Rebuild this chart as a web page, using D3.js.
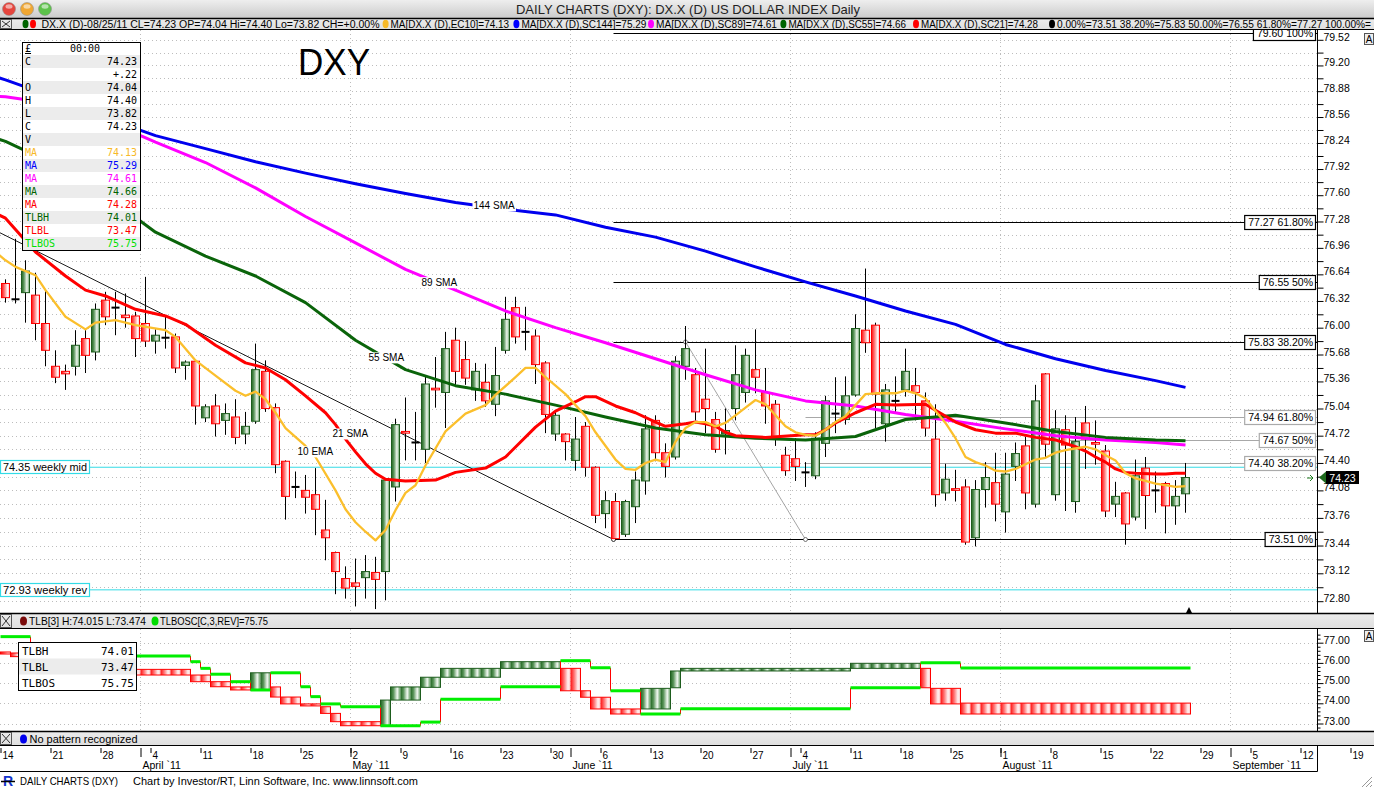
<!DOCTYPE html>
<html><head><meta charset="utf-8">
<script src="https://cdn.jsdelivr.net/npm/d3@7/dist/d3.min.js"></script>
<style>body{margin:0;background:#fff;overflow:hidden}svg{display:block}</style>
</head><body>
<svg id="c" width="1374" height="789"></svg>
<script>
// ---------------- DATA ----------------
// daily candles, trading-day slot 0 = Mon 14 Mar 2011 (weekdays only)
const open  = [76.53,76.34,76.42,76.39,76.05,75.54,75.48,75.54,75.87,75.71,76.33,76.24,76.15,76.14,76.05,75.84,75.88,75.89,75.55,75.60,74.93,75.07,74.90,74.94,74.74,74.89,75.48,75.05,74.42,74.12,74.08,74.03,73.62,73.36,73.06,73.01,73.07,73.13,73.14,74.12,74.77,74.64,74.56,75.28,75.23,75.85,75.62,75.26,75.35,75.09,75.73,76.24,75.95,75.90,75.58,74.74,74.74,74.43,74.83,74.35,73.81,73.95,73.57,73.89,74.19,74.90,74.52,74.47,75.54,75.44,75.15,74.91,74.74,75.04,75.23,75.50,75.23,75.09,74.49,74.45,74.29,74.25,74.63,74.98,74.91,75.20,75.97,76.03,74.86,75.13,75.26,75.31,75.13,74.68,74.05,74.10,74.12,73.53,74.09,74.17,73.83,74.36,74.60,73.92,75.45,74.03,74.79,73.95,74.87,74.64,74.54,73.92,74.05,73.77,74.34,74.08,74.16,73.90,74.04];
const high  = [76.58,77.07,76.81,76.66,76.45,75.73,75.56,75.97,75.99,76.29,76.43,76.43,76.41,76.19,76.61,75.98,76.15,75.93,75.61,75.61,75.09,75.21,75.10,75.15,75.00,75.81,75.61,75.10,74.43,74.30,74.26,74.34,73.97,73.37,73.20,73.29,73.33,73.31,74.22,74.92,75.17,75.00,75.42,75.65,75.95,76.00,75.84,75.58,75.57,75.77,76.37,76.37,76.25,75.98,75.60,75.02,74.75,74.94,74.88,74.36,74.07,74.05,73.97,74.30,74.96,74.96,74.63,75.66,76.02,75.52,75.75,75.00,75.04,75.79,75.75,75.98,75.52,75.14,74.59,74.69,74.41,74.76,75.19,75.41,75.42,76.16,76.71,76.06,75.33,75.42,75.75,75.52,75.23,75.09,74.39,74.32,74.21,74.20,74.41,74.52,74.52,74.64,74.71,75.32,75.46,75.02,74.96,74.94,75.07,74.90,74.61,74.18,74.06,74.44,74.47,74.30,74.18,74.20,74.40];
const low   = [76.30,76.29,76.06,75.85,75.54,75.34,75.26,75.43,75.46,75.61,76.03,75.91,76.00,75.65,75.77,75.69,75.75,75.46,75.38,74.85,74.88,74.71,74.73,74.62,74.62,74.86,75.00,74.28,73.74,73.99,73.81,73.56,73.27,72.88,72.83,72.74,72.83,72.71,72.81,73.95,74.43,74.43,74.40,75.05,74.81,75.31,75.32,75.13,75.06,74.95,75.69,75.81,75.73,75.33,74.75,74.66,74.43,74.31,74.24,73.70,73.64,73.51,73.54,73.70,74.03,74.42,74.23,74.44,75.38,74.90,74.75,74.52,74.50,74.90,75.11,75.22,74.86,74.60,74.25,74.19,74.12,74.21,74.47,74.75,74.85,75.18,75.70,74.81,74.65,74.98,75.18,74.90,74.71,73.89,73.96,73.95,73.45,73.43,73.88,73.72,73.59,74.19,73.86,73.88,74.45,73.96,73.84,73.82,74.33,74.38,73.77,73.77,73.45,73.73,73.63,73.82,73.58,73.68,73.82];
const close = [76.36,76.34,76.68,76.05,75.73,75.41,75.45,75.79,75.67,76.22,76.13,76.24,76.12,75.87,75.84,75.91,75.88,75.52,75.59,75.07,75.06,74.86,74.98,74.70,74.83,75.50,75.04,74.38,74.01,74.12,74.00,73.86,73.53,73.14,72.95,72.97,73.14,73.05,74.20,74.85,74.75,74.64,75.33,75.26,75.75,75.48,75.40,75.48,75.13,75.43,76.10,75.89,75.95,75.56,74.97,74.96,74.65,74.68,74.35,73.79,73.96,73.52,73.95,74.20,74.80,74.52,74.36,75.60,75.75,75.00,75.04,74.56,74.78,75.44,75.67,75.41,75.07,74.70,74.31,74.36,74.29,74.69,75.13,74.98,75.19,75.99,75.82,75.21,75.26,75.13,75.48,75.23,74.81,74.03,74.21,74.08,73.48,74.09,74.23,73.92,74.27,74.51,74.05,75.13,74.62,74.80,74.61,74.65,74.68,74.62,73.84,74.01,73.69,74.25,74.02,74.08,73.90,74.01,74.23];

// moving averages at trading-day slots
const maIdx  = [-1,0,5,10,15,20,25,30,35,40,45,50,55,60,65,70,75,80,85,90,95,100,105,110,115,118];
const sma144 = [79.06,79.02,78.80,78.55,78.33,78.17,78.01,77.87,77.74,77.62,77.51,77.43,77.36,77.21,77.09,76.92,76.73,76.55,76.38,76.20,76.04,75.80,75.63,75.49,75.37,75.29];
const sma89  = [78.82,78.81,78.72,78.52,78.25,78.00,77.69,77.34,77.02,76.70,76.45,76.20,76.00,75.82,75.63,75.44,75.26,75.13,75.07,74.97,74.89,74.80,74.72,74.67,74.64,74.61];
const sma55  = [78.30,78.26,77.97,77.60,77.15,76.86,76.62,76.30,75.85,75.50,75.31,75.21,75.08,74.94,74.81,74.73,74.69,74.67,74.71,74.91,74.96,74.87,74.77,74.70,74.67,74.66];
const sma21Idx = [-1,0,3,6,8,10,13,16,18,21,24,26,28,30,32,33,34,35,36,37,38,40,43,45,48,50,53,55,57,58,59,61,63,65,66,68,69,70,71,72,73,76,80,81,82,83,84,85,87,89,92,93,95,97,99,101,103,105,107,108,109,110,111,112,113,115,116,117,118];
const sma21    = [77.38,77.32,76.91,76.62,76.45,76.38,76.22,76.14,76.04,75.79,75.58,75.52,75.38,75.19,74.99,74.85,74.68,74.53,74.39,74.28,74.21,74.19,74.20,74.29,74.34,74.47,74.82,75.01,75.12,75.18,75.18,75.07,74.99,74.88,74.83,74.86,74.88,74.86,74.83,74.76,74.72,74.70,74.73,74.73,74.79,74.87,74.93,74.99,75.09,75.08,75.09,75.02,74.88,74.79,74.75,74.75,74.70,74.67,74.59,74.54,74.47,74.41,74.33,74.29,74.28,74.27,74.27,74.28,74.28];
const ema10Idx = [-1,0,1,3,4,6,8,9,11,13,16,17,19,21,23,24,25,26,27,28,30,31,33,34,35,36,37,38,39,40,41,42,44,46,48,49,51,52,53,54,56,58,59,61,62,63,64,65,66,67,68,69,70,71,72,73,74,75,76,77,78,79,80,81,82,83,84,85,86,87,89,90,91,92,93,94,95,96,97,98,99,100,101,103,104,105,106,108,109,110,111,112,113,114,115,116,117,118];
const ema10    = [76.91,76.81,76.73,76.63,76.45,76.13,75.98,76.06,76.09,76.03,75.97,75.89,75.61,75.43,75.25,75.19,75.24,75.15,74.99,74.81,74.60,74.47,74.08,73.86,73.71,73.60,73.50,73.62,73.85,74.05,74.14,74.37,74.77,74.98,75.08,75.20,75.41,75.52,75.52,75.41,75.21,74.95,74.76,74.44,74.33,74.32,74.40,74.44,74.41,74.65,74.81,74.88,74.88,74.83,74.87,74.96,75.05,75.14,75.09,74.96,74.83,74.76,74.73,74.72,74.79,74.88,74.95,75.08,75.21,75.22,75.22,75.25,75.22,75.16,75.01,74.87,74.69,74.47,74.41,74.37,74.31,74.30,74.33,74.44,74.46,74.52,74.55,74.59,74.56,74.49,74.43,74.28,74.22,74.19,74.16,74.14,74.12,74.13];

// annotations
const fibLevels = [73.51, 75.83, 76.55, 77.27, 79.60];
const fibNames  = ["73.51 0%","75.83 38.20%","76.55 50%","77.27 61.80%","79.60 100%"];
const fib2Levels = [74.40, 74.67, 74.94];
const fib2Names  = ["74.40 38.20%","74.67 50%","74.94 61.80%"];
const weeklyLevels = [74.35, 72.93];
const weeklyNames  = ["74.35 weekly mid","72.93 weekly rev"];
const trendIdx = [-1, 60.8], trendVal = [77.17, 73.51];
const swingIdx = [68, 80], swingVal = [75.83, 73.51];
const maLabels = ["144 SMA","89 SMA","55 SMA","21 SMA","10 EMA"];
const maLabelIdx = [46.8, 41.6, 36.3, 32.7, 29.2];
const maLabelVal = [77.47, 76.54, 75.64, 74.74, 74.53];

// Three line break panel (runs starting at slot)
const tlbStart = [0,1,2,5,9,13,19,21,23,25,27,28,30,32,33,34,38,39,42,44,50,56,58,59,61,64,67,68,85,92,93,96];
const tlbLow   = [76.44,76.31,76.10,75.90,75.68,75.40,75.07,74.82,74.66,74.66,74.31,73.97,73.87,73.50,73.09,72.89,72.89,74.16,74.79,75.29,75.73,74.62,74.30,73.72,73.47,73.72,74.77,75.60,75.73,74.77,73.97,73.47];
const tlbHigh  = [76.54,76.49,76.31,76.10,75.90,75.68,75.40,75.07,74.81,75.51,74.81,74.31,73.97,73.83,73.50,73.09,74.16,74.81,75.29,75.73,76.06,75.73,74.62,74.30,73.72,74.74,75.60,75.73,75.98,75.73,74.74,74.01];
const tlbDir   = ["d","d","d","d","d","d","d","d","d","u","d","d","d","d","d","d","u","u","u","u","u","d","d","d","d","u","u","u","u","d","d","d"];
const osStart  = [0,3,9,19,20,21,23,25,27,30,31,32,34,38,42,44,50,56,59,61,64,68,85,92,96];
const osVal    = [77.30,76.60,76.34,76.06,75.73,75.44,75.07,74.66,75.51,74.82,74.33,73.97,73.83,72.89,73.07,74.20,74.82,76.11,75.76,74.62,73.47,73.73,74.77,76.01,75.75];

// axis labels
const dayTickSlots = d3.range(0, 136, 5);
const dayTickLabels = ["14","21","28","4","11","18","25","2","9","16","23","30","6","13","20","27","4","11","18","25","1","8","15","22","29","5","12","19"];
const monthSlots = [14,35,57,79,100,123];
const monthLabels = ["April `11","May `11","June `11","July `11","August `11","September `11"];

const infoRows = [["C","74.23"],["","+.22"],["O","74.04"],["H","74.40"],["L","73.82"],["C","74.23"],["V",""],["MA","74.13"],["MA","75.29"],["MA","74.61"],["MA","74.66"],["MA","74.28"],["TLBH","74.01"],["TLBL","73.47"],["TLBOS","75.75"]];
const infoColors = ["#000","#000","#000","#000","#000","#000","#000","#f7b928","#0000ff","#ff00ff","#006400","#ff0000","#006400","#ff0000","#00e000"];
const lastClose = 74.23;

const legendTexts = ["DX.X (D)-08/25/11 CL=74.23 OP=74.04 Hi=74.40 Lo=73.82 CH=+0.00%","MA[DX.X (D),EC10]=74.13","MA[DX.X (D),SC144]=75.29","MA[DX.X (D),SC89]=74.61","MA[DX.X (D),SC55]=74.66","MA[DX.X (D),SC21]=74.28","0.00%=73.51 38.20%=75.83 50.00%=76.55 61.80%=77.27 100.00%="];
const legendDot = [null, "#f7b928", "#0000ff", "#ff00ff", "#006400", "#ff0000", "#000"];

// ---------------- DRAW ----------------
const W = 1374, H = 789;
const SANS = "'Liberation Sans', Arial, sans-serif";
const MONO = "'DejaVu Sans Mono', monospace";
const svg = d3.select("#c");
const defs = svg.append("defs");
function lin(id, stops, vertical) {
  const g = defs.append("linearGradient").attr("id", id)
    .attr("x1", 0).attr("y1", 0).attr("x2", vertical ? 0 : 1).attr("y2", vertical ? 1 : 0);
  stops.forEach(s => g.append("stop").attr("offset", s[0]).attr("stop-color", s[1]));
}
lin("gUp", [[0,"#1f641f"],[0.3,"#5c965c"],[0.68,"#f2f8f2"],[1,"#5b9b5b"]]);
lin("gDn", [[0,"#ff1010"],[0.35,"#ff7070"],[0.75,"#fff3f3"],[1,"#ffc4c4"]]);
lin("tb", [[0,"#eeeeee"],[1,"#cbcbcb"]], true);
lin("bar", [[0,"#ececec"],[1,"#dedede"]], true);

const xc = d3.scaleLinear().domain([0, 136]).range([5.5, 1365.5]);   // candle centres
const xs = d3.scaleLinear().domain([0, 136]).range([1, 1361]);       // slot start (ticks)
const y = d3.scaleLog().domain([72.80, 79.52]).range([601.2, 39.8]);
const yl = d3.scaleLinear().domain([73, 77]).range([723.5, 642.7]);
const AX = 1317;

// Title bar
svg.append("rect").attr("width", W).attr("height", 18).attr("fill", "url(#tb)");
[["#e5453d",9],["#f0a733",27],["#5cc24a",45]].forEach(([c,cx]) => {
  svg.append("circle").attr("cx", cx).attr("cy", 9).attr("r", 6.5).attr("fill", c).attr("stroke", "#888").attr("stroke-width", 0.5);
  svg.append("ellipse").attr("cx", cx).attr("cy", 6.5).attr("rx", 3.5).attr("ry", 2.2).attr("fill", "#fff").attr("opacity", 0.55);
});
svg.append("text").attr("x", 688).attr("y", 13.5).attr("text-anchor", "middle")
  .attr("font-family", SANS).attr("font-size", 13.5).attr("fill", "#222")
  .attr("textLength", 344).attr("lengthAdjust", "spacingAndGlyphs")
  .text("DAILY CHARTS (DXY): DX.X (D) US DOLLAR INDEX Daily");

function headerBar(y0, y1) {
  svg.append("rect").attr("x", 0).attr("y", y0).attr("width", W).attr("height", y1 - y0).attr("fill", "url(#bar)");
  svg.append("line").attr("x1", 0).attr("x2", W).attr("y1", y0 + 0.5).attr("y2", y0 + 0.5).attr("stroke", "#000").attr("stroke-width", 1.5);
  svg.append("line").attr("x1", 0).attr("x2", W).attr("y1", y1 - 0.5).attr("y2", y1 - 0.5).attr("stroke", "#000");
  svg.append("rect").attr("x", 0.5).attr("y", y0 + 1.5).attr("width", 11).attr("height", y1 - y0 - 3).attr("fill", "none").attr("stroke", "#555");
  svg.append("path").attr("d", `M2,${y0+3}L10,${y1-3}M10,${y0+3}L2,${y1-3}`).attr("stroke", "#333");
}
function dot(cx, cy, c) { svg.append("ellipse").attr("cx", cx).attr("cy", cy).attr("rx", 3).attr("ry", 4.2).attr("fill", c); }

// ---------- main plot ----------
defs.append("clipPath").attr("id", "mainClip").append("rect").attr("x", 0).attr("y", 30).attr("width", AX).attr("height", 583);
const plot = svg.append("g").attr("clip-path", "url(#mainClip)");

const gridVals = d3.range(0, 44).map(k => +(72.80 + 0.16 * k).toFixed(2));
plot.selectAll(".hg").data(gridVals).join("line")
  .attr("x1", 0).attr("x2", AX).attr("y1", d => Math.round(y(d)) + 0.5).attr("y2", d => Math.round(y(d)) + 0.5)
  .attr("stroke", "#bdbdbd").attr("stroke-dasharray", "1,3");
plot.selectAll(".vg").data(monthSlots).join("line")
  .attr("x1", d => Math.round(xs(d)) - 0.5).attr("x2", d => Math.round(xs(d)) - 0.5).attr("y1", 30).attr("y2", 613)
  .attr("stroke", "#bdbdbd").attr("stroke-dasharray", "1,3");

weeklyLevels.forEach(v => plot.append("line").attr("x1", 0).attr("x2", AX).attr("y1", y(v)).attr("y2", y(v)).attr("stroke", "#33dbe6").attr("stroke-width", 1));

const fibX0 = xc(60.8);
fibLevels.forEach(v => plot.append("line").attr("x1", fibX0).attr("x2", AX).attr("y1", Math.round(y(v)) + 0.5).attr("y2", Math.round(y(v)) + 0.5).attr("stroke", "#000"));
fib2Levels.forEach(v => plot.append("line").attr("x1", xc(80)).attr("x2", AX).attr("y1", Math.round(y(v)) + 0.5).attr("y2", Math.round(y(v)) + 0.5).attr("stroke", "#a8a8a8"));
plot.append("line").attr("x1", xc(trendIdx[0])).attr("y1", y(trendVal[0])).attr("x2", xc(trendIdx[1])).attr("y2", y(trendVal[1])).attr("stroke", "#000").attr("stroke-width", 0.9);
plot.append("line").attr("x1", xc(swingIdx[0])).attr("y1", y(swingVal[0])).attr("x2", xc(swingIdx[1])).attr("y2", y(swingVal[1])).attr("stroke", "#9a9a9a").attr("stroke-width", 0.9);
[[trendIdx[1], trendVal[1], "#000"], [swingIdx[0], swingVal[0], "#555"], [swingIdx[1], swingVal[1], "#555"]].forEach(([i, v, c]) =>
  plot.append("circle").attr("cx", xc(i)).attr("cy", y(v)).attr("r", 2).attr("fill", "#fff").attr("stroke", c).attr("stroke-width", 0.8));

// candles
const N = close.length;
const candles = d3.range(N).map(i => ({i, o: open[i], h: high[i], l: low[i], c: close[i]}));
const cg = plot.append("g");
cg.selectAll(".wick").data(candles).join("line")
  .attr("x1", d => xc(d.i)).attr("x2", d => xc(d.i)).attr("y1", d => y(d.h)).attr("y2", d => y(d.l))
  .attr("stroke", "#000").attr("stroke-width", 1);
cg.selectAll(".body").data(candles.filter(d => d.o !== d.c)).join("rect")
  .attr("x", d => xc(d.i) - 4).attr("width", 8)
  .attr("y", d => y(Math.max(d.o, d.c)))
  .attr("height", d => Math.max(1.5, y(Math.min(d.o, d.c)) - y(Math.max(d.o, d.c))))
  .attr("fill", d => d.c > d.o ? "url(#gUp)" : "url(#gDn)")
  .attr("stroke", d => d.c > d.o ? "#1d5c1d" : "#ff0000").attr("stroke-width", 1);
cg.selectAll(".doji").data(candles.filter(d => d.o === d.c)).join("rect")
  .attr("x", d => xc(d.i) - 4).attr("width", 8).attr("y", d => y(d.o) - 1).attr("height", 2).attr("fill", "#000");

// moving averages
const line = d3.line().x(d => xc(d[0])).y(d => y(d[1]));
const maSeries = [
  [maIdx, sma144, "#0000ee", 3],
  [maIdx, sma89, "#ff00ff", 3],
  [maIdx, sma55, "#0a640a", 3],
  [sma21Idx, sma21, "#ff0000", 3],
  [ema10Idx, ema10, "#fbbf2c", 2.3]
];
maSeries.forEach(([ix, vals, col, w]) => {
  plot.append("path").datum(ix.map((i, k) => [i, vals[k]])).attr("d", line)
    .attr("fill", "none").attr("stroke", col).attr("stroke-width", w).attr("stroke-linejoin", "round");
});
maLabels.forEach((t, k) => {
  const tx = plot.append("text").attr("x", xc(maLabelIdx[k])).attr("y", y(maLabelVal[k]) + 3.5)
    .attr("font-family", SANS).attr("font-size", 10).text(t);
  const bb = tx.node().getBBox();
  plot.insert("rect", () => tx.node()).attr("x", bb.x - 1).attr("y", bb.y).attr("width", bb.width + 2).attr("height", bb.height).attr("fill", "#fff");
});

svg.append("text").attr("x", 298).attr("y", 75).attr("font-family", SANS).attr("font-size", 37)
  .attr("textLength", 72).attr("lengthAdjust", "spacingAndGlyphs").text("DXY");

function tagBox(v, txt, stroke, xr) {
  const t = svg.append("text").attr("x", xr - 3).attr("y", y(v) + 4).attr("text-anchor", "end")
    .attr("font-family", SANS).attr("font-size", 10.5).text(txt);
  const bb = t.node().getBBox();
  svg.insert("rect", () => t.node()).attr("x", bb.x - 3.5).attr("y", Math.round(y(v)) - 6.5).attr("width", bb.width + 6).attr("height", 14)
    .attr("fill", "#fff").attr("stroke", stroke).attr("stroke-width", 1.2);
}
fibLevels.forEach((v, k) => tagBox(v, fibNames[k], "#000", 1316));
fib2Levels.forEach((v, k) => tagBox(v, fib2Names[k], "#aaa", 1316));
weeklyLevels.forEach((v, k) => {
  const t = svg.append("text").attr("x", 3).attr("y", y(v) + 4).attr("font-family", SANS).attr("font-size", 11)
    .attr("textLength", 84).attr("lengthAdjust", "spacingAndGlyphs").text(weeklyNames[k]);
  svg.insert("rect", () => t.node()).attr("x", 0.5).attr("y", Math.round(y(v)) - 6.5).attr("width", 89).attr("height", 13)
    .attr("fill", "#fff").attr("stroke", "#33dbe6").attr("stroke-width", 1.2);
});

// legend bar (drawn once, on top)
headerBar(18, 30);
dot(25.5, 24, "#006400"); dot(33, 24, "#ff0000");
const legendX = [41.5, 390.6, 521.4, 656, 788.4, 921, 1057];
const legendW = [338, 118.4, 125, 121, 117.6, 117, 314];
legendTexts.forEach((t, k) => {
  if (legendDot[k]) dot(legendX[k] - 5, 24, legendDot[k]);
  svg.append("text").attr("x", legendX[k]).attr("y", 27.6).attr("font-family", SANS).attr("font-size", 10)
    .attr("textLength", legendW[k]).attr("lengthAdjust", "spacingAndGlyphs").text(t);
});

// info box
const ib = svg.append("g").attr("transform", "translate(22,42)");
ib.append("rect").attr("x", 0.5).attr("y", 0.5).attr("width", 118).attr("height", 208).attr("fill", "#fff");
infoRows.forEach((r, k) => {
  if (k % 2 === 0) ib.append("rect").attr("x", 1).attr("y", 13 + k * 13).attr("width", 117).attr("height", 13).attr("fill", "#ececec");
  ib.append("text").attr("x", 3).attr("y", 23 + k * 13).attr("font-family", MONO).attr("font-size", 10).attr("fill", infoColors[k]).text(r[0]);
  ib.append("text").attr("x", 115).attr("y", 23 + k * 13).attr("text-anchor", "end").attr("font-family", MONO).attr("font-size", 10).attr("fill", infoColors[k]).text(r[1]);
});
ib.append("text").attr("x", 3).attr("y", 10).attr("font-family", MONO).attr("font-size", 10).attr("text-decoration", "underline").text("£");
ib.append("text").attr("x", 63).attr("y", 10).attr("text-anchor", "middle").attr("font-family", MONO).attr("font-size", 10).text("00:00");
ib.append("rect").attr("x", 0.5).attr("y", 0.5).attr("width", 118).attr("height", 208).attr("fill", "none").attr("stroke", "#000");

// right axis main
svg.append("rect").attr("x", AX).attr("y", 30).attr("width", W - AX).attr("height", 583).attr("fill", "#fff").lower();
const majors = gridVals.filter((d, k) => k % 2 === 0 && d <= 79.53);
const minors = gridVals.filter((d, k) => k % 2 === 1 && d <= 79.53);
const ra = svg.append("g").attr("transform", `translate(${AX + 0.5},0)`);
ra.append("g").call(d3.axisRight(y).tickValues(majors).tickSize(6).tickFormat(d3.format(".2f")))
  .call(g => g.select(".domain").remove())
  .call(g => g.selectAll("text").attr("x", 6).attr("dy", "0.05em").attr("font-family", SANS).attr("font-size", 10.5).attr("fill", "#000"))
  .call(g => g.selectAll("line").attr("stroke", "#000"));
ra.append("g").call(d3.axisRight(y).tickValues(minors).tickSize(6).tickFormat(""))
  .call(g => g.select(".domain").remove()).call(g => g.selectAll("line").attr("stroke", "#000"));
svg.append("line").attr("x1", AX + 0.5).attr("x2", AX + 0.5).attr("y1", 30).attr("y2", 613).attr("stroke", "#000");
svg.append("line").attr("x1", AX).attr("x2", W).attr("y1", y(74.35)).attr("y2", y(74.35)).attr("stroke", "#33dbe6").lower();
svg.append("path").attr("d", `M${AX + 2},${y(lastClose)}l7,-6v12z`).attr("fill", "#1e6b1e");
svg.append("rect").attr("x", AX + 9).attr("y", y(lastClose) - 6.5).attr("width", 33).attr("height", 13).attr("fill", "#000");
svg.append("text").attr("x", AX + 25.5).attr("y", y(lastClose) + 4).attr("text-anchor", "middle").attr("font-family", SANS).attr("font-size", 10.5).attr("fill", "#fff").text("74.23");
svg.append("path").attr("d", `M${AX - 10},${y(lastClose) + 0.5}h6m-3,-3l3,3l-3,3`).attr("stroke", "#1e7b1e").attr("fill", "none");
function aBox(yy) {
  svg.append("rect").attr("x", 1364.5).attr("y", yy + 0.5).attr("width", 9).attr("height", 11).attr("fill", "#eee").attr("stroke", "#555");
  svg.append("text").attr("x", 1369).attr("y", yy + 10).attr("text-anchor", "middle").attr("font-family", SANS).attr("font-size", 10).text("A");
}
aBox(33);
svg.append("path").attr("d", "M1186,613l3,-6l3,6z").attr("fill", "#000");

// ---------- lower panel ----------
headerBar(613, 629);
svg.append("ellipse").attr("cx", 23.5).attr("cy", 621).attr("rx", 3.5).attr("ry", 4.5).attr("fill", "#7a0a0a");
svg.append("text").attr("x", 29).attr("y", 625).attr("font-family", SANS).attr("font-size", 10.5).attr("textLength", 117).attr("lengthAdjust", "spacingAndGlyphs").text("TLB[3] H:74.015 L:73.474");
svg.append("ellipse").attr("cx", 155).attr("cy", 621).attr("rx", 3.5).attr("ry", 4.5).attr("fill", "#00dd00");
svg.append("text").attr("x", 160).attr("y", 625).attr("font-family", SANS).attr("font-size", 10.5).attr("textLength", 108).attr("lengthAdjust", "spacingAndGlyphs").text("TLBOSC[C,3,REV]=75.75");

defs.append("clipPath").attr("id", "lowClip").append("rect").attr("x", 0).attr("y", 629).attr("width", AX).attr("height", 102);
const lp = svg.append("g").attr("clip-path", "url(#lowClip)");
lp.selectAll(".lg").data([73, 74, 75, 76, 77]).join("line")
  .attr("x1", 0).attr("x2", AX).attr("y1", d => Math.round(yl(d)) + 0.5).attr("y2", d => Math.round(yl(d)) + 0.5)
  .attr("stroke", "#bdbdbd").attr("stroke-dasharray", "1,3");
lp.selectAll(".lv").data(monthSlots).join("line")
  .attr("x1", d => Math.round(xs(d)) - 0.5).attr("x2", d => Math.round(xs(d)) - 0.5).attr("y1", 629).attr("y2", 731)
  .attr("stroke", "#bdbdbd").attr("stroke-dasharray", "1,3");
const runs = tlbStart.map((s, k) => ({s, e: k + 1 < tlbStart.length ? tlbStart[k + 1] : N, lo: tlbLow[k], hi: tlbHigh[k], up: tlbDir[k] === "u"}));
runs.forEach(r => {
  d3.range(r.s, r.e).forEach(i => {
    lp.append("rect").attr("x", xs(i) - 0.5).attr("width", 10).attr("y", yl(r.hi)).attr("height", Math.max(1.5, yl(r.lo) - yl(r.hi)))
      .attr("fill", r.up ? "url(#gUp)" : "url(#gDn)");
  });
  lp.append("rect").attr("x", xs(r.s) - 0.5).attr("width", (r.e - r.s) * 10).attr("y", yl(r.hi)).attr("height", Math.max(1.5, yl(r.lo) - yl(r.hi)))
    .attr("fill", "none").attr("stroke", r.up ? "#1d5c1d" : "#ff0000").attr("stroke-width", 1);
});
const osRuns = osStart.map((s, k) => ({s, e: k + 1 < osStart.length ? osStart[k + 1] : N, v: osVal[k]}));
osRuns.forEach((r, k) => {
  if (k > 0) lp.append("line").attr("x1", xs(r.s) - 0.5).attr("x2", xs(r.s) - 0.5).attr("y1", yl(osRuns[k - 1].v)).attr("y2", yl(r.v)).attr("stroke", "#ff0000");
});
osRuns.forEach(r => lp.append("line").attr("x1", xs(r.s) - 0.5).attr("x2", xs(r.e) - 0.5).attr("y1", yl(r.v)).attr("y2", yl(r.v)).attr("stroke", "#00ee00").attr("stroke-width", 3));

const lb = svg.append("g").attr("transform", "translate(18,642)");
lb.append("rect").attr("x", 0.5).attr("y", 0.5).attr("width", 118).attr("height", 48).attr("fill", "#fff");
lb.append("rect").attr("x", 1).attr("y", 16.5).attr("width", 117).attr("height", 16).attr("fill", "#ececec");
[["TLBH","74.01"],["TLBL","73.47"],["TLBOS","75.75"]].forEach((r, k) => {
  lb.append("text").attr("x", 4).attr("y", 13 + k * 16).attr("font-family", MONO).attr("font-size", 11).text(r[0]);
  lb.append("text").attr("x", 116).attr("y", 13 + k * 16).attr("text-anchor", "end").attr("font-family", MONO).attr("font-size", 11).text(r[1]);
});
lb.append("rect").attr("x", 0.5).attr("y", 0.5).attr("width", 118).attr("height", 48).attr("fill", "none").attr("stroke", "#000");

const la = svg.append("g").attr("transform", `translate(${AX + 0.5},0)`);
la.append("g").call(d3.axisRight(yl).tickValues([73, 74, 75, 76, 77]).tickSize(6).tickFormat(d3.format(".2f")))
  .call(g => g.select(".domain").remove())
  .call(g => g.selectAll("text").attr("x", 6).attr("dy", "0.05em").attr("font-family", SANS).attr("font-size", 10.5).attr("fill", "#000"))
  .call(g => g.selectAll("line").attr("stroke", "#000"));
la.append("g").call(d3.axisRight(yl).tickValues(d3.range(72.6, 77.5, 0.2).filter(v => Math.abs(v - Math.round(v)) > 0.01)).tickSize(3).tickFormat(""))
  .call(g => g.select(".domain").remove()).call(g => g.selectAll("line").attr("stroke", "#000"));
svg.append("line").attr("x1", AX + 0.5).attr("x2", AX + 0.5).attr("y1", 629).attr("y2", 731).attr("stroke", "#000");
aBox(630);

// pattern bar
headerBar(731, 746);
svg.append("ellipse").attr("cx", 23.5).attr("cy", 739).attr("rx", 3.5).attr("ry", 4.5).attr("fill", "#0000ee");
svg.append("text").attr("x", 29.5).attr("y", 743).attr("font-family", SANS).attr("font-size", 10.5).attr("textLength", 108).attr("lengthAdjust", "spacingAndGlyphs").text("No pattern recognized");

// x axis
const xg = svg.append("g").attr("transform", "translate(0,747)");
xg.call(d3.axisBottom(xs).tickValues(dayTickSlots).tickSize(5).tickFormat((d, k) => dayTickLabels[k]))
  .call(g => g.select(".domain").remove())
  .call(g => g.selectAll("line").attr("stroke", "#000").attr("transform", "translate(-0.5,1)"))
  .call(g => g.selectAll("text").attr("text-anchor", "start").attr("x", 1).attr("y", 12).attr("dy", 0)
    .attr("font-family", SANS).attr("font-size", 10).attr("fill", "#000"));
xg.append("g").call(d3.axisBottom(xs).tickValues(monthSlots).tickSize(9).tickFormat((d, k) => monthLabels[k]))
  .call(g => g.select(".domain").remove())
  .call(g => g.selectAll("line").attr("stroke", "#000").attr("transform", "translate(-0.5,1)"))
  .call(g => g.selectAll("text").attr("text-anchor", "start").attr("x", 1).attr("y", 21.5).attr("dy", 0)
    .attr("font-family", SANS).attr("font-size", 10.5).attr("fill", "#000"));
svg.append("path").attr("d", `M0,771.5H${AX + 0.5}V746`).attr("fill", "none").attr("stroke", "#000");

// footer
svg.append("text").attr("x", 3).attr("y", 786).attr("font-family", SANS).attr("font-weight", "bold").attr("font-size", 14).attr("fill", "#1133cc").text("R");
svg.append("line").attr("x1", 1).attr("x2", 15).attr("y1", 781.5).attr("y2", 781.5).attr("stroke", "#000").attr("stroke-width", 1.5);
svg.append("text").attr("x", 20).attr("y", 785).attr("font-family", SANS).attr("font-size", 10.5).attr("textLength", 98).attr("lengthAdjust", "spacingAndGlyphs").text("DAILY CHARTS (DXY)");
svg.append("text").attr("x", 133).attr("y", 785).attr("font-family", SANS).attr("font-size", 10.5).attr("textLength", 285).attr("lengthAdjust", "spacingAndGlyphs").text("Chart by Investor/RT, Linn Software, Inc. www.linnsoft.com");
svg.append("path").attr("d", "M1372,777L1362,787M1372,781L1366,787M1372,785L1370,787").attr("stroke", "#999");
</script>
</body></html>
